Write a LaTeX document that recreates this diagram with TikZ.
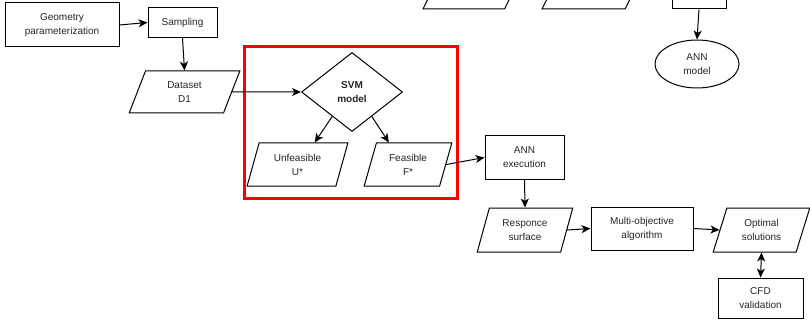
\documentclass[tikz,border=0pt]{standalone}
\usepackage{fontspec}
\setmainfont{Liberation Sans}
\usetikzlibrary{shapes.geometric,arrows.meta,calc}
\tikzset{
  base/.style={draw=black, line width=1pt, font=\fontsize{10}{14}\selectfont,
    text=black!85, align=center, inner sep=0pt},
  procbox/.style={base, rectangle},
  iobox/.style={base, trapezium, trapezium left angle=71, trapezium right angle=109,
    trapezium stretches=true},
  decbox/.style={base, diamond, font=\fontsize{10}{14}\selectfont\bfseries},
  termbox/.style={base, ellipse},
  flow/.style={draw=black, line width=1pt, -{Stealth[length=9pt,width=8pt,inset=2.5pt]}},
  flowboth/.style={draw=black, line width=1pt,
    {Stealth[length=9pt,width=8pt,inset=2.5pt]}-{Stealth[length=9pt,width=8pt,inset=2.5pt]}},
  hilite/.style={draw=red, line width=3pt},
}
\begin{document}
\begin{tikzpicture}[x=1pt,y=-1pt]
\clip (0,0) rectangle (810,323);
\fill[white] (0,0) rectangle (810,323);

% top cropped shapes
\node[iobox, minimum width=103, minimum height=44] (topa) at (474.5,-13) {\phantom{X}};
\node[iobox, minimum width=105, minimum height=44] (topb) at (594.5,-13) {\phantom{X}};
\node[procbox, minimum width=54, minimum height=40] (topc) at (699,-11) {};
\node[termbox, minimum width=84, minimum height=48] (annm) at (697,64) {ANN\\model};

\node[procbox, minimum width=114, minimum height=44] (geo) at (62,25) {Geometry\\parameterization};
\node[procbox, minimum width=69, minimum height=30] (samp) at (182.5,22.5) {Sampling};
\node[iobox, minimum width=111, minimum height=42] (ds) at (184.5,92) {Dataset\\D1};
\node[decbox, minimum width=101, minimum height=79] (svm) at (352,92) {SVM\\model};
\node[iobox, minimum width=101, minimum height=43] (unf) at (297.5,164.5) {Unfeasible\\U*};
\node[iobox, minimum width=88, minimum height=43] (fea) at (408,164.5) {Feasible\\F*};
\node[procbox, minimum width=79, minimum height=43] (annx) at (524.5,157.5) {ANN\\execution};
\node[iobox, minimum width=96, minimum height=44, trapezium left angle=70, trapezium right angle=110] (resp) at (525,230) {Responce\\surface};
\node[procbox, minimum width=102, minimum height=43] (moa) at (642,228.5) {Multi-objective\\algorithm};
\node[iobox, minimum width=97, minimum height=44, trapezium left angle=70, trapezium right angle=110] (opt) at (761.5,230) {Optimal\\solutions};
\node[procbox, minimum width=85, minimum height=40] (cfd) at (760.5,298) {CFD\\validation};

\draw[hilite] (244,47) rectangle (457,198);

\draw[flow] (topc.south) -- (annm.north);
\draw[flow] (geo.east) -- (samp.west);
\draw[flow] (samp.south) -- (ds.north);
\draw[flow] (ds.east) -- (svm.west);
\draw[flow] (svm.231) -- (unf.52);
\draw[flow] (svm.309) -- (fea.131);
\draw[flow] (fea.east) -- (annx.west);
\draw[flow] (annx.south) -- (resp.north);
\draw[flow] (resp.east) -- (moa.west);
\draw[flow] (moa.east) -- (opt.west);
\draw[flowboth] (opt.south) -- (cfd.north);
\end{tikzpicture}
\end{document}
